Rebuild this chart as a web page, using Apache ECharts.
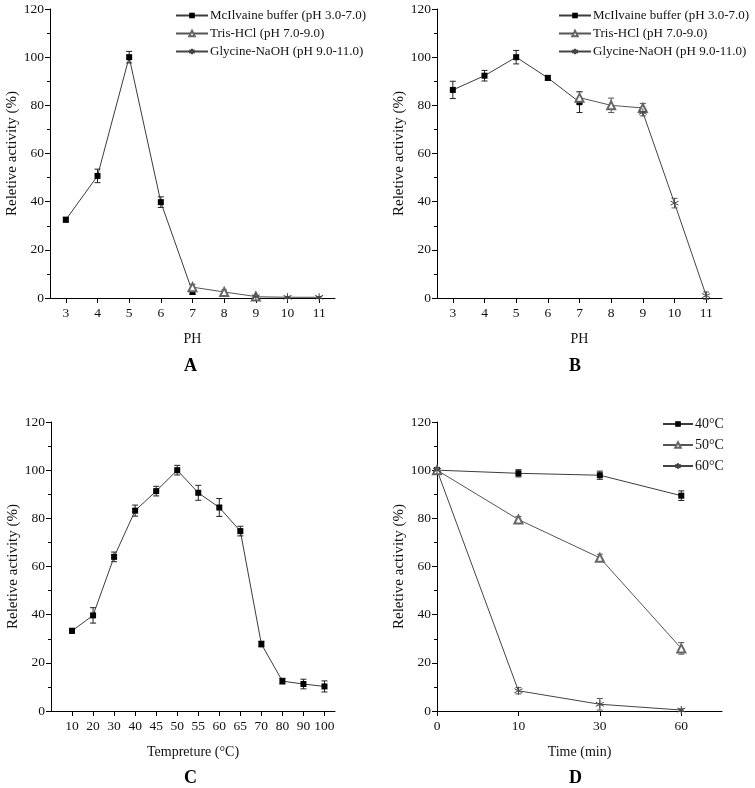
<!DOCTYPE html>
<html>
<head>
<meta charset="utf-8">
<script src="https://cdn.jsdelivr.net/npm/echarts@6/dist/echarts.min.js"></script>
<style>
  html, body { margin: 0; padding: 0; background: #fff; }
  #main { width: 755px; height: 788px; }
</style>
</head>
<body>
<div id="main"></div>
<script>
// pH values on the x axis of A and B
var phTicks = [3, 4, 5, 6, 7, 8, 9, 10, 11];

// panel A
var aMcX = [3, 4, 5, 6, 7], aMcY = [32.5, 50.7, 100, 39.8, 2.5], aMcErr = [1, 2.8, 2.4, 2.2, 1];
var aTrisX = [7, 8, 9], aTrisY = [4.5, 2.5, 0.6], aTrisErr = [1.2, 0.8, 0.4];
var aGlyX = [9, 10, 11], aGlyY = [0.5, 0.3, 0.3], aGlyErr = [0.3, 0.3, 0.3];

// panel B
var bMcX = [3, 4, 5, 6, 7], bMcY = [86.4, 92.3, 100, 91.4, 81.3], bMcErr = [3.6, 2.2, 2.8, 1, 4.3];
var bTrisX = [7, 8, 9], bTrisY = [83.2, 80, 78.9], bTrisErr = [2.5, 3, 1.9];
var bGlyX = [9, 10, 11], bGlyY = [77.1, 39.4, 1], bGlyErr = [1.5, 2, 1.5];

// panel C
var tempLabels = ['10', '20', '30', '40', '45', '50', '55', '60', '65', '70', '80', '90', '100'];
var tempY = [33.3, 39.7, 64, 83.2, 91.3, 100, 90.6, 84.5, 74.7, 27.8, 12.4, 11.2, 10.2];
var tempErr = [1, 3.2, 2, 2.3, 2, 2, 3.1, 3.7, 2, 1.2, 1.2, 2, 2.3];

// panel D
var timeLabels = ['0', '10', '30', '60'];
var t40 = [100, 98.7, 97.9, 89.4], t40Err = [0.8, 1.5, 1.7, 2];
var t50 = [100, 79.5, 63.6, 26], t50Err = [0.8, 1.3, 1.5, 2.4];
var t60 = [100, 8.4, 2.8, 0.4], t60Err = [0.8, 1.3, 2.4, 0.5];

var FONT = '"Liberation Serif", "Times New Roman", serif';
var STAR = 'path://M5,0L5,10M0.67,2.5L9.33,7.5M0.67,7.5L9.33,2.5';

var names = ['McIlvaine buffer (pH 3.0-7.0)', 'Tris-HCl (pH 7.0-9.0)', 'Glycine-NaOH (pH 9.0-11.0)'];
var tNames = ['40°C', '50°C', '60°C'];

function pairs(xs, ys) {
  return xs.map(function (x, i) { return [x, ys[i]]; });
}
function errPairs(xs, ys, es) {
  return xs.map(function (x, i) { return [x, ys[i] - es[i], ys[i] + es[i]]; });
}
function idx(n, start) {
  var out = [];
  for (var i = 0; i < n; i++) out.push(i + start);
  return out;
}

function errSeries(k, data, col) {
  return {
    type: 'custom',
    xAxisIndex: k, yAxisIndex: k,
    z: 1,
    data: data,
    encode: { x: 0, y: [1, 2] },
    renderItem: function (params, api) {
      var x = api.value(0);
      var top = api.coord([x, api.value(2)]);
      var bot = api.coord([x, api.value(1)]);
      var w = 3;
      var st = { stroke: col, lineWidth: 1 };
      return {
        type: 'group',
        children: [
          { type: 'line', shape: { x1: top[0], y1: top[1], x2: bot[0], y2: bot[1] }, style: st },
          { type: 'line', shape: { x1: top[0] - w, y1: top[1], x2: top[0] + w, y2: top[1] }, style: st },
          { type: 'line', shape: { x1: bot[0] - w, y1: bot[1], x2: bot[0] + w, y2: bot[1] }, style: st }
        ]
      };
    }
  };
}

function lineSeries(k, name, data, kind) {
  var s = {
    type: 'line', name: name,
    xAxisIndex: k, yAxisIndex: k,
    z: 3,
    data: data,
    lineStyle: { width: 1, color: '#3c3c3c' }
  };
  if (kind == 'square') {
    s.symbol = 'rect'; s.symbolSize = 6;
    s.itemStyle = { color: '#000' };
  } else if (kind == 'tri') {
    s.symbol = 'emptyTriangle'; s.symbolSize = 8;
    s.itemStyle = { color: '#666', borderWidth: 1 };
    s.lineStyle.color = '#555';
  } else {
    s.symbol = STAR; s.symbolSize = 8;
    s.itemStyle = { color: '#444', borderColor: '#444', borderWidth: 1 };
    s.lineStyle.color = '#444';
  }
  return s;
}

var axisText = { fontFamily: FONT, fontSize: 13.5, color: '#111' };

function yAxisOf(k) {
  return {
    gridIndex: k, type: 'value', min: 0, max: 120, interval: 20,
    name: 'Reletive activity (%)', nameLocation: 'middle', nameGap: 30,
    nameTextStyle: { fontFamily: FONT, fontSize: 15, color: '#111' },
    axisLine: { show: true, lineStyle: { color: '#000', width: 1 } },
    axisTick: { show: true, length: 5, lineStyle: { color: '#000' } },
    minorTick: { show: true, splitNumber: 2, length: 3, lineStyle: { color: '#000' } },
    splitLine: { show: false },
    axisLabel: Object.assign({ margin: 6 }, axisText)
  };
}

function xAxisOf(k, min, max, ticks, name, fmt) {
  var lab = Object.assign({ margin: 8, customValues: ticks }, axisText);
  if (fmt) lab.formatter = fmt;
  return {
    gridIndex: k, type: 'value', min: min, max: max,
    name: name, nameLocation: 'middle', nameGap: 34,
    nameTextStyle: { fontFamily: FONT, fontSize: 14, color: '#111' },
    axisLine: { show: true, onZero: false, lineStyle: { color: '#000', width: 1 } },
    axisTick: { show: true, length: 5, customValues: ticks, lineStyle: { color: '#000' } },
    splitLine: { show: false },
    axisLabel: lab
  };
}

function legendOf(data, left, top, w, gap, size) {
  return {
    data: data, orient: 'vertical', left: left, top: top, padding: 0,
    itemWidth: w, itemHeight: 7, itemGap: gap,
    textStyle: { fontFamily: FONT, fontSize: size, color: '#111', padding: [0, 0, 0, -3] }
  };
}

var tempIdx = idx(tempLabels.length, 1);
var timeIdx = idx(timeLabels.length, 0);

var option = {
  backgroundColor: '#fff',
  animation: false,
  grid: [
    { left: 50, top: 9, width: 285, height: 289 },
    { left: 437, top: 9, width: 285, height: 289 },
    { left: 51, top: 422, width: 284, height: 289 },
    { left: 437, top: 422, width: 285, height: 289 }
  ],
  xAxis: [
    xAxisOf(0, 2.5, 11.5, phTicks, 'PH'),
    xAxisOf(1, 2.5, 11.5, phTicks, 'PH'),
    xAxisOf(2, 0, 13.5, tempIdx, 'Tempreture (°C)', function (v) { return tempLabels[v - 1] || ''; }),
    xAxisOf(3, 0, 3.5, timeIdx, 'Time (min)', function (v) { return timeLabels[v] || ''; })
  ],
  yAxis: [yAxisOf(0), yAxisOf(1), yAxisOf(2), yAxisOf(3)],
  legend: [
    legendOf(names, 175, 9, 32, 5, 13),
    legendOf(names, 558, 9, 32, 5, 13),
    legendOf(tNames, 662, 417, 30, 7, 14)
  ],
  graphic: [
    { type: 'text', left: 184, top: 357, style: { text: 'A', font: 'bold 18px ' + FONT, fill: '#000' } },
    { type: 'text', left: 569, top: 357, style: { text: 'B', font: 'bold 18px ' + FONT, fill: '#000' } },
    { type: 'text', left: 184, top: 769, style: { text: 'C', font: 'bold 18px ' + FONT, fill: '#000' } },
    { type: 'text', left: 569, top: 769, style: { text: 'D', font: 'bold 18px ' + FONT, fill: '#000' } }
  ],
  series: [
    errSeries(0, errPairs(aMcX, aMcY, aMcErr), '#222'),
    errSeries(0, errPairs(aTrisX, aTrisY, aTrisErr), '#555'),
    errSeries(0, errPairs(aGlyX, aGlyY, aGlyErr), '#555'),
    lineSeries(0, names[0], pairs(aMcX, aMcY), 'square'),
    lineSeries(0, names[1], pairs(aTrisX, aTrisY), 'tri'),
    lineSeries(0, names[2], pairs(aGlyX, aGlyY), 'star'),

    errSeries(1, errPairs(bMcX, bMcY, bMcErr), '#222'),
    errSeries(1, errPairs(bTrisX, bTrisY, bTrisErr), '#555'),
    errSeries(1, errPairs(bGlyX, bGlyY, bGlyErr), '#555'),
    lineSeries(1, names[0], pairs(bMcX, bMcY), 'square'),
    lineSeries(1, names[1], pairs(bTrisX, bTrisY), 'tri'),
    lineSeries(1, names[2], pairs(bGlyX, bGlyY), 'star'),

    errSeries(2, errPairs(tempIdx, tempY, tempErr), '#222'),
    lineSeries(2, 'temp', pairs(tempIdx, tempY), 'square'),

    errSeries(3, errPairs(timeIdx, t40, t40Err), '#222'),
    errSeries(3, errPairs(timeIdx, t50, t50Err), '#555'),
    errSeries(3, errPairs(timeIdx, t60, t60Err), '#555'),
    lineSeries(3, tNames[0], pairs(timeIdx, t40), 'square'),
    lineSeries(3, tNames[1], pairs(timeIdx, t50), 'tri'),
    lineSeries(3, tNames[2], pairs(timeIdx, t60), 'star')
  ]
};

var chart = echarts.init(document.getElementById('main'), null, { renderer: 'canvas' });
chart.setOption(option);
</script>
</body>
</html>
